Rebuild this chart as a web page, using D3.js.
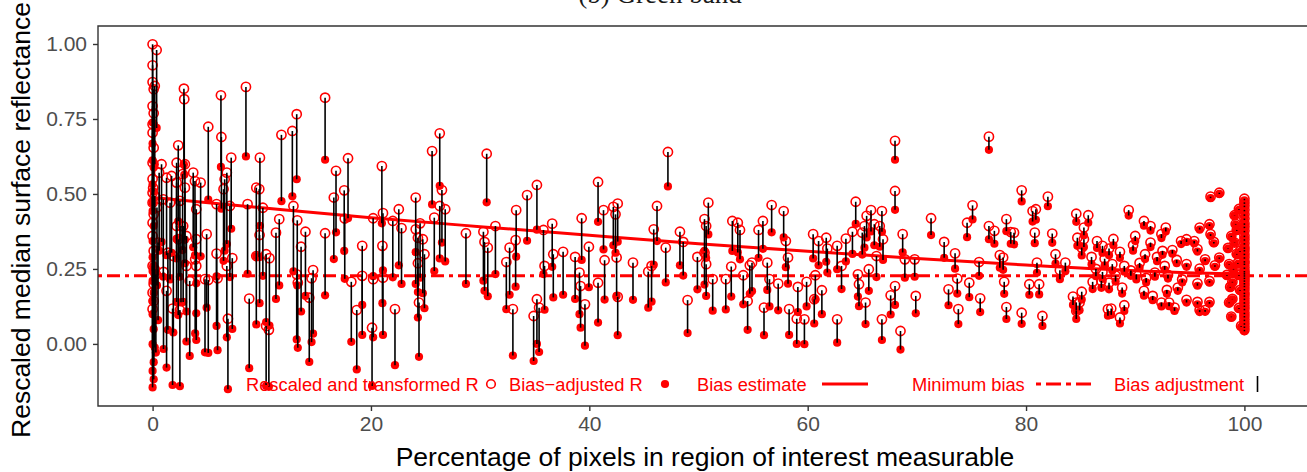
<!DOCTYPE html>
<html>
<head>
<meta charset="utf-8">
<script src="https://cdn.jsdelivr.net/npm/d3@7"></script>
<style>
  body { margin: 0; background: #fff; }
  svg { display: block; font-family: "Liberation Sans", Arial, sans-serif; }
</style>
</head>
<body>
<svg width="1307" height="472"></svg>
<script>
// [percent measurable, rescaled and transformed R, bias-adjusted R]
var pointsAtZero = [
  [0, 0.999, 0.738], [0.37, 0.980, 0.720], [0, 0.929, 0.668], [0, 0.873, 0.612],
  [0.2, 0.860, 0.599], [0.1, 0.849, 0.588], [0, 0.793, 0.532], [0.1, 0.769, 0.508],
  [0, 0.732, 0.471], [0, 0.704, 0.443], [0.1, 0.654, 0.393], [0, 0.604, 0.343],
  [0.05, 0.520, 0.259], [0, 0.504, 0.243], [0, 0.471, 0.210], [0.1, 0.432, 0.171],
  [0, 0.404, 0.143], [0, 0.260, -0.001], [0.3, 0.232, -0.029], [0, 0.171, -0.090],
  [0.1, 0.143, -0.118], [0, 0.116, -0.145], [0.2, 0.249, -0.012], [0, 0.360, 0.099],
  [0.1, 0.310, 0.049], [0, 0.550, 0.289], [0.1, 0.200, -0.061], [0.4, 0.455, 0.195]
];

var pointsLow = [
  [0.82, 0.599, 0.340], [0.6, 0.571, 0.311], [1.28, 0.554, 0.296], [1.74, 0.560, 0.304],
  [2.2, 0.604, 0.350], [2.35, 0.662, 0.409], [2.87, 0.851, 0.598], [2.9, 0.816, 0.564],
  [2.96, 0.599, 0.347], [2.75, 0.566, 0.313], [2.2, 0.538, 0.285], [2.96, 0.521, 0.269],
  [3.72, 0.571, 0.322], [3.88, 0.543, 0.295], [4.4, 0.538, 0.292], [5.1, 0.724, 0.481],
  [6.26, 0.829, 0.590], [6.3, 0.690, 0.451], [7.2, 0.621, 0.384], [6.8, 0.571, 0.333],
  [6.6, 0.549, 0.311], [6.5, 0.516, 0.277], [8.55, 0.857, 0.625], [9.83, 0.621, 0.394],
  [9.5, 0.521, 0.293], [9.77, 0.516, 0.289], [11.8, 0.697, 0.476], [12.8, 0.710, 0.492],
  [13.2, 0.766, 0.549], [15.8, 0.821, 0.614], [16.8, 0.577, 0.372], [16.6, 0.488, 0.283],
  [17.9, 0.619, 0.419], [17.55, 0.512, 0.310], [21.0, 0.593, 0.402], [21.1, 0.436, 0.245],
  [0.2, 0.493, 0.232], [0.98, 0.482, 0.224], [1.6, 0.471, 0.215], [2.5, 0.477, 0.224],
  [2.8, 0.393, 0.140], [4.0, 0.449, 0.202], [4.95, 0.366, 0.121], [5.86, 0.466, 0.225],
  [7.08, 0.460, 0.223], [8.7, 0.466, 0.234], [10.1, 0.454, 0.227], [11.6, 0.416, 0.195],
  [11.3, 0.371, 0.150], [12.9, 0.460, 0.242], [13.25, 0.412, 0.195], [14.0, 0.374, 0.160],
  [13.6, 0.324, 0.108], [15.8, 0.369, 0.162], [17.6, 0.418, 0.217], [19.2, 0.327, 0.130],
  [20.2, 0.419, 0.226], [21.05, 0.327, 0.136], [22.0, 0.410, 0.222], [9.8, 0.363, 0.136],
  [9.5, 0.293, 0.065], [10.4, 0.299, 0.073], [10.7, 0.286, 0.061], [5.86, 0.301, 0.060],
  [7.3, 0.286, 0.050], [6.8, 0.260, 0.022], [3.9, 0.282, 0.035], [4.8, 0.216, -0.028],
  [5.1, 0.213, -0.030], [5.95, 0.219, -0.021], [8.85, 0.151, -0.081], [6.9, 0.084, -0.151],
  [10.4, 0.060, -0.140], [10.65, 0.047, -0.143], [14.7, 0.246, 0.034], [14.56, 0.219, 0.006],
  [14.35, 0.154, -0.060], [18.2, 0.207, 0.007], [19.2, 0.227, 0.030], [18.7, 0.113, -0.085],
  [20.1, 0.054, -0.140], [20.2, 0.216, 0.022], [21.1, 0.221, 0.030], [22.2, 0.116, -0.071],
  [1.28, 0.177, -0.079], [1.83, 0.118, -0.137], [2.5, 0.113, -0.141], [13.3, 0.204, -0.013],
  [13.2, 0.232, 0.015], [2.2, 0.393, 0.140], [2.6, 0.393, 0.139], [2.35, 0.349, 0.096],
  [3.1, 0.360, 0.108], [4.0, 0.349, 0.102], [1.4, 0.304, 0.047], [0.5, 0.338, 0.079],
  [1.9, 0.293, 0.038], [3.1, 0.260, 0.008], [4.0, 0.260, 0.013], [1.0, 0.240, -0.017],
  [3.4, 0.210, -0.040]
];

var pointsMid = [
  [22.55, 0.449, 0.262], [22.8, 0.386, 0.200], [24.1, 0.488, 0.306], [24.1, 0.382, 0.200],
  [24.3, 0.354, 0.173], [24.5, 0.402, 0.221], [24.3, 0.269, 0.088], [24.75, 0.349, 0.169],
  [24.9, 0.299, 0.119], [24.4, 0.138, -0.043], [25.6, 0.643, 0.465], [26.3, 0.702, 0.527],
  [26.3, 0.460, 0.285], [26.5, 0.513, 0.338], [26.8, 0.449, 0.275], [25.8, 0.421, 0.243],
  [28.7, 0.369, 0.200], [30.6, 0.634, 0.472], [30.3, 0.374, 0.211], [30.4, 0.340, 0.177],
  [30.7, 0.321, 0.159], [31.4, 0.393, 0.233], [32.4, 0.273, 0.116], [32.7, 0.321, 0.164],
  [33.3, 0.446, 0.291], [33.25, 0.346, 0.191], [33.0, 0.116, -0.039], [34.3, 0.496, 0.344],
  [35.2, 0.530, 0.381], [35.8, 0.380, 0.233], [35.9, 0.260, 0.114], [35.2, 0.149, 0.000],
  [34.9, 0.093, -0.057], [35.4, 0.121, -0.027], [36.6, 0.401, 0.257], [36.7, 0.299, 0.155],
  [37.6, 0.307, 0.164], [38.7, 0.290, 0.150], [39.1, 0.238, 0.099], [39.2, 0.193, 0.054],
  [39.6, 0.132, -0.006], [39.3, 0.419, 0.280], [39.96, 0.324, 0.189], [40.8, 0.540, 0.407],
  [41.3, 0.446, 0.315], [41.4, 0.279, 0.148], [40.8, 0.204, 0.071], [42.2, 0.457, 0.329],
  [42.6, 0.468, 0.341], [42.4, 0.432, 0.304], [42.5, 0.288, 0.160], [42.6, 0.157, 0.029],
  [44.0, 0.271, 0.147], [45.4, 0.241, 0.121], [45.7, 0.260, 0.141], [45.9, 0.382, 0.264],
  [46.2, 0.460, 0.343], [47.2, 0.640, 0.525], [47.0, 0.321, 0.205], [48.3, 0.374, 0.262],
  [48.6, 0.340, 0.228], [49.0, 0.146, 0.036]
];

var pointsUpper = [
  [49.9, 0.290, 0.182], [50.55, 0.416, 0.310], [50.9, 0.471, 0.365], [50.7, 0.393, 0.287],
  [50.55, 0.304, 0.198], [50.7, 0.266, 0.160], [51.3, 0.216, 0.111], [52.5, 0.216, 0.115],
  [53.0, 0.258, 0.158], [53.1, 0.410, 0.310], [53.6, 0.404, 0.305], [53.8, 0.380, 0.282],
  [54.1, 0.229, 0.132], [54.5, 0.143, 0.047], [54.7, 0.262, 0.167], [54.9, 0.271, 0.176],
  [55.5, 0.380, 0.287], [55.9, 0.410, 0.317], [56.0, 0.121, 0.029], [56.3, 0.271, 0.180],
  [56.5, 0.216, 0.125], [56.7, 0.463, 0.372], [57.3, 0.201, 0.112], [57.8, 0.443, 0.355],
  [58.0, 0.343, 0.256], [58.2, 0.288, 0.201], [58.3, 0.116, 0.030], [59.0, 0.084, 0.000],
  [59.1, 0.190, 0.106], [59.7, 0.082, -0.001], [59.9, 0.207, 0.125], [60.5, 0.366, 0.285],
  [60.6, 0.149, 0.068], [60.7, 0.229, 0.148], [61.3, 0.179, 0.099], [61.0, 0.343, 0.262],
  [61.7, 0.354, 0.274], [61.8, 0.318, 0.238], [62.7, 0.082, 0.004], [62.7, 0.327, 0.249],
  [63.1, 0.260, 0.183], [63.5, 0.351, 0.275], [64.1, 0.374, 0.300], [64.4, 0.474, 0.400],
  [64.6, 0.232, 0.158], [64.7, 0.199, 0.126], [65.0, 0.371, 0.298], [65.2, 0.393, 0.321],
  [65.3, 0.138, 0.066], [65.4, 0.427, 0.355], [65.6, 0.249, 0.177], [65.8, 0.446, 0.375],
  [66.1, 0.399, 0.329], [66.3, 0.293, 0.223], [66.6, 0.393, 0.324], [66.8, 0.443, 0.374],
  [66.9, 0.349, 0.280], [66.8, 0.082, 0.013], [67.6, 0.162, 0.098], [68.0, 0.193, 0.130],
  [68.0, 0.677, 0.614], [68.0, 0.510, 0.447], [68.5, 0.043, -0.019], [68.7, 0.366, 0.305],
  [68.9, 0.282, 0.221], [69.8, 0.282, 0.224], [69.9, 0.160, 0.102], [71.3, 0.419, 0.363],
  [72.5, 0.340, 0.287], [72.9, 0.182, 0.129], [73.5, 0.302, 0.251], [73.7, 0.218, 0.168],
  [73.8, 0.116, 0.066], [74.6, 0.404, 0.356], [74.8, 0.204, 0.156], [75.1, 0.462, 0.415],
  [75.7, 0.273, 0.227], [75.8, 0.152, 0.106], [76.6, 0.691, 0.647], [76.6, 0.393, 0.349],
  [77.1, 0.377, 0.334]
];

var pointsHigh = [
  [77.6, 0.296, 0.254], [77.9, 0.288, 0.247], [78.2, 0.416, 0.376], [78.6, 0.373, 0.334],
  [78.9, 0.371, 0.332], [78.0, 0.207, 0.167], [78.2, 0.123, 0.083], [79.6, 0.104, 0.067],
  [79.6, 0.512, 0.475], [80.6, 0.443, 0.408], [80.9, 0.449, 0.414], [80.8, 0.371, 0.336],
  [81.0, 0.271, 0.237], [80.3, 0.199, 0.164], [81.2, 0.199, 0.165], [81.5, 0.093, 0.060],
  [82.0, 0.491, 0.459], [82.4, 0.368, 0.337], [82.7, 0.299, 0.268], [83.6, 0.271, 0.242],
  [83.1, 0.246, 0.216], [84.6, 0.434, 0.407], [85.7, 0.429, 0.404], [84.7, 0.354, 0.327],
  [85.3, 0.388, 0.362], [85.3, 0.349, 0.323], [85.1, 0.321, 0.295], [84.3, 0.158, 0.130],
  [84.6, 0.138, 0.111], [85.1, 0.174, 0.148], [84.9, 0.138, 0.112], [84.6, 0.110, 0.083],
  [86.5, 0.343, 0.320], [86.1, 0.207, 0.183], [87.0, 0.327, 0.304], [87.6, 0.318, 0.296],
  [87.2, 0.284, 0.262], [86.9, 0.210, 0.187], [87.6, 0.204, 0.182], [88.6, 0.307, 0.287],
  [87.9, 0.266, 0.245], [89.0, 0.260, 0.241], [88.8, 0.188, 0.168], [87.5, 0.116, 0.094],
  [87.8, 0.118, 0.097], [89.0, 0.129, 0.110], [88.6, 0.088, 0.068], [89.4, 0.446, 0.428],
  [89.8, 0.329, 0.311], [90.8, 0.410, 0.394], [91.4, 0.393, 0.378], [90.9, 0.299, 0.283],
  [90.1, 0.232, 0.215], [90.8, 0.177, 0.161], [91.4, 0.338, 0.323], [92.8, 0.388, 0.375],
  [92.4, 0.366, 0.353], [92.5, 0.310, 0.297], [93.4, 0.313, 0.301], [92.7, 0.260, 0.247],
  [91.8, 0.238, 0.224], [92.4, 0.138, 0.125], [93.1, 0.138, 0.126], [93.6, 0.121, 0.110],
  [93.9, 0.188, 0.177], [94.2, 0.343, 0.333], [94.7, 0.349, 0.340], [95.4, 0.343, 0.335],
  [94.7, 0.266, 0.257], [95.7, 0.316, 0.308], [95.9, 0.251, 0.244], [94.7, 0.147, 0.138],
  [95.7, 0.140, 0.132], [95.9, 0.113, 0.106], [96.8, 0.140, 0.134], [96.4, 0.113, 0.107],
  [95.7, 0.202, 0.194], [95.9, 0.388, 0.381], [96.8, 0.399, 0.393], [96.9, 0.366, 0.360],
  [97.2, 0.340, 0.335], [97.7, 0.288, 0.284], [97.3, 0.262, 0.257], [96.8, 0.210, 0.204],
  [96.4, 0.282, 0.276], [96.9, 0.491, 0.486], [97.7, 0.504, 0.500], [99.1, 0.429, 0.428],
  [99.1, 0.338, 0.337], [98.9, 0.207, 0.205], [98.6, 0.138, 0.136], [98.8, 0.091, 0.089],
  [98.6, 0.266, 0.264], [88.2, 0.228, 0.208], [89.6, 0.245, 0.227], [90.4, 0.270, 0.254],
  [91.0, 0.220, 0.205], [92.0, 0.290, 0.276], [93.0, 0.230, 0.218], [93.8, 0.280, 0.269],
  [94.3, 0.215, 0.205], [86.4, 0.250, 0.226], [87.0, 0.240, 0.217], [91.6, 0.160, 0.146],
  [92.9, 0.180, 0.167], [86.0, 0.290, 0.266], [88.0, 0.350, 0.329], [90.0, 0.360, 0.343],
  [98.5, 0.320, 0.318], [98.8, 0.360, 0.357], [99.0, 0.250, 0.248], [98.7, 0.190, 0.188],
  [99.2, 0.400, 0.398], [98.9, 0.150, 0.149], [99.3, 0.300, 0.298], [98.4, 0.230, 0.227]
];

var pointsFull = [
  [100, 0.484, 0.479], [100, 0.472, 0.467], [100, 0.461, 0.456], [100, 0.447, 0.442],
  [100, 0.432, 0.427], [100, 0.418, 0.413], [100, 0.402, 0.397], [100, 0.391, 0.386],
  [100, 0.377, 0.372], [100, 0.361, 0.356], [100, 0.349, 0.344], [100, 0.336, 0.331],
  [100, 0.322, 0.317], [100, 0.313, 0.308], [100, 0.301, 0.296], [100, 0.289, 0.284],
  [100, 0.276, 0.271], [100, 0.268, 0.263], [100, 0.255, 0.250], [100, 0.243, 0.238],
  [100, 0.236, 0.231], [100, 0.229, 0.224], [100, 0.221, 0.216], [100, 0.212, 0.207],
  [100, 0.203, 0.198], [100, 0.194, 0.189], [100, 0.183, 0.178], [100, 0.171, 0.166],
  [100, 0.162, 0.157], [100, 0.151, 0.146], [100, 0.139, 0.134], [100, 0.128, 0.123],
  [100, 0.117, 0.112], [100, 0.104, 0.099], [100, 0.093, 0.088], [100, 0.081, 0.076],
  [100, 0.069, 0.064], [100, 0.058, 0.053], [100, 0.047, 0.042],
  [99.5, 0.450, 0.447], [99.6, 0.310, 0.307], [99.4, 0.270, 0.267], [99.5, 0.120, 0.117],
  [99.6, 0.180, 0.177], [99.3, 0.380, 0.377], [99.5, 0.230, 0.227], [99.7, 0.060, 0.057]
];

// bias estimate curve and minimum bias
var biasX = [0, 10, 20, 30, 40, 50, 60, 70, 80, 90, 100];
var biasY = [0.488, 0.454, 0.421, 0.391, 0.362, 0.334, 0.309, 0.285, 0.263, 0.244, 0.232];
var minBias = 0.227;

var xTicks = [0, 20, 40, 60, 80, 100];
var yTicks = [0, 0.25, 0.5, 0.75, 1];

var legendLabels = ["Rescaled and transformed R", "Bias\u2212adjusted R", "Bias estimate", "Minimum bias", "Bias adjustment"];

var points = [].concat(pointsAtZero, pointsLow, pointsMid, pointsUpper, pointsHigh, pointsFull);
var bias = biasX.map(function (d, i) { return [d, biasY[i]]; });

var RED = "#ff0000";
var svg = d3.select("svg");

var x = d3.scaleLinear().domain([-5, 105]).range([98, 1299]);
var y = d3.scaleLinear().domain([-0.207, 1.06]).range([406, 26]);

// title (cut at the top edge)
svg.append("text")
  .attr("x", 660).attr("y", 3)
  .attr("text-anchor", "middle")
  .style("font-family", "'Liberation Serif', 'DejaVu Serif', serif")
  .style("font-size", "27px")
  .style("fill", "#1a1a1a")
  .text("(b) Green band");

var plot = svg.append("g");

plot.selectAll(".raw").data(points).enter().append("circle")
  .attr("class", "raw")
  .attr("cx", function (d) { return x(d[0]); })
  .attr("cy", function (d) { return y(d[1]); })
  .attr("r", 4.6)
  .style("fill", "none")
  .style("stroke", RED)
  .style("stroke-width", 1.6);

plot.selectAll(".adj").data(points).enter().append("circle")
  .attr("class", "adj")
  .attr("cx", function (d) { return x(d[0]); })
  .attr("cy", function (d) { return y(d[2]); })
  .attr("r", 4.1)
  .style("fill", RED);

plot.append("path")
  .datum(bias)
  .attr("d", d3.line().x(function (d) { return x(d[0]); }).y(function (d) { return y(d[1]); }).curve(d3.curveMonotoneX))
  .style("fill", "none")
  .style("stroke", RED)
  .style("stroke-width", 3);

plot.append("line")
  .attr("x1", 98).attr("x2", 1307)
  .attr("y1", y(minBias)).attr("y2", y(minBias))
  .style("stroke", RED)
  .style("stroke-width", 3)
  .style("stroke-dasharray", "4,5,13,5");

plot.selectAll(".seg").data(points).enter().append("line")
  .attr("class", "seg")
  .attr("x1", function (d) { return x(d[0]); })
  .attr("x2", function (d) { return x(d[0]); })
  .attr("y1", function (d) { return y(d[1]); })
  .attr("y2", function (d) { return y(d[2]); })
  .style("stroke", "#000")
  .style("stroke-width", 1.6);

// panel lines: top, left, bottom
svg.append("path")
  .attr("d", "M1307,26H98V406H1307")
  .style("fill", "none")
  .style("stroke", "#333")
  .style("stroke-width", 1.4);

var xAxis = svg.append("g")
  .attr("transform", "translate(0,406)")
  .call(d3.axisBottom(x).tickValues(xTicks).tickSize(5).tickSizeOuter(0).tickPadding(5));
var yAxis = svg.append("g")
  .attr("transform", "translate(98,0)")
  .call(d3.axisLeft(y).tickValues(yTicks).tickFormat(d3.format(".2f")).tickSize(5).tickSizeOuter(0).tickPadding(6));

[xAxis, yAxis].forEach(function (a) {
  a.select(".domain").remove();
  a.selectAll("line").style("stroke", "#333").style("stroke-width", 1.4);
  a.selectAll("text").style("fill", "#4d4d4d").style("font-size", "21px")
    .style("font-family", "'Liberation Sans', Arial, sans-serif");
});

svg.append("text")
  .attr("x", 705).attr("y", 466)
  .attr("text-anchor", "middle")
  .style("font-size", "26.5px")
  .text("Percentage of pixels in region of interest measurable");

svg.append("text")
  .attr("transform", "translate(30,220) rotate(-90)")
  .attr("text-anchor", "middle")
  .style("font-size", "26.5px")
  .text("Rescaled median surface reflectance");

// legend inside panel: label then key
var legendY = 384;
var legendTextX = [246, 509, 697, 912, 1114];
var lg = svg.append("g").style("font-size", "18.3px").style("fill", RED);
legendLabels.forEach(function (t, i) {
  lg.append("text").attr("x", legendTextX[i]).attr("y", legendY + 6.5).text(t);
});
lg.append("circle").attr("cx", 491).attr("cy", legendY).attr("r", 4.3)
  .style("fill", "none").style("stroke", RED).style("stroke-width", 1.6);
lg.append("circle").attr("cx", 665).attr("cy", legendY).attr("r", 4.1).style("fill", RED);
lg.append("line").attr("x1", 822).attr("x2", 868).attr("y1", legendY).attr("y2", legendY)
  .style("stroke", RED).style("stroke-width", 3);
lg.append("line").attr("x1", 1036).attr("x2", 1095).attr("y1", legendY).attr("y2", legendY)
  .style("stroke", RED).style("stroke-width", 3).style("stroke-dasharray", "5,5,15,5");
lg.append("line").attr("x1", 1257.5).attr("x2", 1257.5).attr("y1", legendY - 8).attr("y2", legendY + 8)
  .style("stroke", "#000").style("stroke-width", 1.6);
</script>
</body>
</html>
